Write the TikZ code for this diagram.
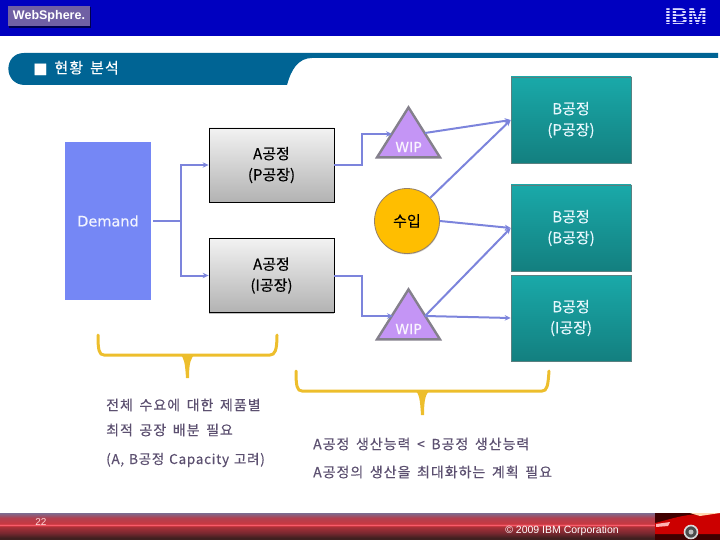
\documentclass[tikz,border=0pt]{standalone}
\usepackage{fontspec}
\usetikzlibrary{arrows.meta,shapes.geometric,shadows}
\newfontfamily\krfont[FakeBold=0.35]{Noto Sans CJK KR}
\newfontfamily\krwide[FakeBold=0.35,LetterSpace=7,WordSpace=1.6]{Noto Sans CJK KR}
\newfontfamily\krtight[FakeBold=0.35,LetterSpace=5.5,WordSpace=1.3]{Noto Sans CJK KR}
\newfontfamily\demandfont[FakeBold=0.3]{DejaVu Sans}
\newfontfamily\arialfont{Liberation Sans}
\definecolor{headblue}{HTML}{0000C0}
\definecolor{bandteal}{HTML}{006494}
\definecolor{flowblue}{HTML}{7C84DC}
\definecolor{demandblue}{HTML}{7587F5}
\definecolor{wippurple}{HTML}{C495F5}
\definecolor{wipgray}{HTML}{84808C}
\definecolor{bracegold}{HTML}{EDBE2C}
\definecolor{noteink}{HTML}{5C5070}
\definecolor{impgold}{HTML}{FFBE00}
\definecolor{logopurple}{HTML}{7060A4}
\definecolor{footdark}{HTML}{402020}
\definecolor{footlow}{HTML}{782830}
\definecolor{footmid}{HTML}{A83038}
\definecolor{footred}{HTML}{C83840}
\definecolor{footline}{HTML}{FF6070}
\definecolor{footrose}{HTML}{B04050}
\definecolor{foottop}{HTML}{7C6C90}
\pgfdeclareverticalshading{footershade}{100bp}{
  color(0bp)=(footdark);
  color(25bp)=(footdark);
  color(29bp)=(footdark);
  color(38bp)=(footlow);
  color(49bp)=(footmid);
  color(51bp)=(footred);
  color(53bp)=(footline);
  color(55bp)=(footred);
  color(66bp)=(footrose);
  color(75bp)=(foottop);
  color(100bp)=(foottop)}
\tikzset{
  aproc/.style={draw=black, line width=0.8pt, top color=gray!10, bottom color=gray!60, minimum width=125pt, minimum height=74pt, align=center, font=\krfont\fontsize{15}{21}\selectfont, drop shadow={shadow xshift=0pt, shadow yshift=-1.5pt, fill=gray}},
  bproc/.style={draw=gray!70!teal, line width=0.6pt, top color=teal!75!cyan!90!white, bottom color=teal!85!gray, minimum width=120pt, minimum height=86pt, align=center, text=cyan!10, font=\krfont\fontsize{15}{21}\selectfont},
  wipnode/.style={draw=wipgray, line width=2.4pt, fill=wippurple, isosceles triangle, isosceles triangle stretches, shape border rotate=90, minimum width=63pt, minimum height=50pt, inner sep=0pt},
  wiptext/.style={text=white!90!wippurple, font=\demandfont\fontsize{14}{14}\selectfont, inner sep=0pt},
  flow/.style={draw=flowblue, line width=2pt},
  flowto/.style={flow, -{Stealth[length=6pt,width=5.5pt]}},
  note/.style={anchor=west, inner sep=0pt, text=noteink, font=\krwide\fontsize{14}{14}\selectfont},
  brace/.style={draw=bracegold, line width=3pt, line cap=round}
}
\begin{document}
\begin{tikzpicture}[x=1pt,y=-1pt]
\useasboundingbox (0,0) rectangle (720,540);
% Header
\fill[headblue] (0,0) rectangle (720,36);
\fill[black!60!headblue] (9,7) rectangle (91,28);
\node[fill=logopurple, minimum width=82pt, minimum height=20pt, inner sep=0pt, text=white, font=\arialfont\bfseries\fontsize{12.5}{14}\selectfont] (websphere) at (49,16) {WebSphere.};
\node[inner sep=0pt, text=white!85!blue, font=\arialfont\bfseries\fontsize{23}{23}\selectfont] (ibm) at (686,17) {IBM};
\foreach \y in {10.5,13.5,...,25.5}
  \draw[headblue, line width=0.7pt] (660,\y) -- (713,\y);
% Title band
\fill[bandteal] (24,53) -- (718,53) -- (718,58) -- (312,58) .. controls (298,58) and (291,70) .. (287,85) -- (25,85) .. controls (3,85) and (3,53) .. (24,53) -- cycle;
\node[anchor=west, inner sep=0pt, text=white, font=\krwide\fontsize{15}{15}\selectfont] (title) at (33,68) {{\demandfont ■}\ 현황 분석};
% Process nodes
\node[fill=demandblue, minimum width=86pt, minimum height=158pt, inner sep=0pt] (demandbox) at (108,221) {};
\node[text=white!90!demandblue, font=\demandfont\fontsize{14.5}{15}\selectfont, inner sep=0pt] (demand) at (108,221) {Demand};
\node[aproc] (ap) at (271.5,165) {A공정\\(P공장)};
\node[aproc] (ai) at (271.5,275.5) {A공정\\(I공장)};
\node[bproc] (bp) at (571,120) {B공정\\(P공장)};
\node[bproc] (bb) at (571,228) {B공정\\(B공장)};
\node[bproc] (bi) at (571,318) {B공정\\(I공장)};
\node[wipnode] (wipa) at (408.5,140) {};
\node[wipnode] (wipb) at (408.5,322) {};
\node[wiptext] (wipatext) at (408.5,147) {WIP};
\node[wiptext] (wipbtext) at (408.5,329) {WIP};
\node[circle, draw=gray!70!brown, line width=0.8pt, fill=impgold, minimum size=65pt, inner sep=0pt, drop shadow={shadow xshift=0.5pt, shadow yshift=-1pt, fill=gray!70}, font=\krfont\fontsize{15}{15}\selectfont] (imp) at (407,221) {수입};
% Junctions
\coordinate (split) at (181,221);
\coordinate (wipain) at (392,134);
\coordinate (wipaout) at (425,133);
\coordinate (wipbin) at (393,316);
\coordinate (wipbout) at (425,316);
% Connectors
\draw[flow] (demandbox.east) ++(2,0) -- (split);
\draw[flowto] (split) |- (ap.west);
\draw[flowto] (split) |- (ai.west);
\draw[flowto] (ap.east) -- ++(28,0) |- (wipain);
\draw[flowto] (ai.east) -- ++(28,0) |- (wipbin);
\draw[flowto] (wipaout) -- (bp.west);
\draw[flowto] (imp.north east) -- (bp.west);
\draw[flowto] (imp.east) -- (bb.west);
\draw[flowto] (wipbout) -- (bb.west);
\draw[flowto] (wipbout) -- (bi.west);
% Braces
\draw[brace] (98,335) .. controls (98,350) and (99,355) .. (104,355) -- (270,355) .. controls (275,355) and (277,350) .. (277,335);
\fill[bracegold] (180,354) .. controls (184,358) and (185,362) .. (186,378) -- (189,378) .. controls (189,362) and (191,358) .. (195,354) -- cycle;
\draw[brace] (296,371) .. controls (296,386) and (297,391) .. (302,391) -- (542,391) .. controls (547,391) and (548,386) .. (549,371);
\fill[bracegold] (415,390) .. controls (419,394) and (420,398) .. (421,415) -- (424,415) .. controls (424,398) and (426,394) .. (430,390) -- cycle;
% Notes
\node[note] (notea) at (106,405) {전체 수요에 대한 제품별};
\node[note] (noteb) at (106,430) {최적 공장 배분 필요};
\node[note, font=\krtight\fontsize{13.5}{14}\selectfont] (notec) at (106,460) {(A, B공정 Capacity 고려)};
\node[note] (noted) at (313,444) {A공정 생산능력 < B공정 생산능력};
\node[note] (notee) at (313,472) {A공정의 생산을 최대화하는 계획 필요};
% Footer
\shade[shading=footershade] (0,513) rectangle (720,540);
\node[inner sep=0pt, text=white!85!red, font=\arialfont\fontsize{10}{10}\selectfont] (pagenum) at (41,522) {22};
\node[inner sep=0pt, text=white, font=\arialfont\fontsize{10.5}{10}\selectfont] (copyright) at (562,531) {© 2009 IBM Corporation};
% Car
\fill[black!75!red] (655,513) rectangle (720,540);
\fill[red!80!black] (655,523) .. controls (668,520) and (680,515) .. (700,514) -- (720,513) -- (720,534) -- (655,534) -- cycle;
\fill[red!30!white] (656,524) -- (670,522) -- (668,526) -- (656,527) -- cycle;
\fill[orange!30!white] (690,513) -- (720,513) -- (700,516) -- cycle;
\draw[gray!30, line width=1.6pt, fill=black!70] (691,532) circle (6.5);
\fill[gray!50] (691,532) circle (2.5);
\end{tikzpicture}
\end{document}
